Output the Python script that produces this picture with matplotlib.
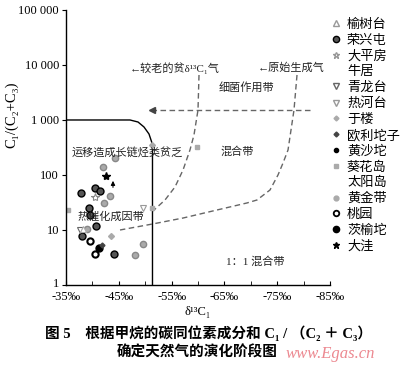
import matplotlib
matplotlib.use('Agg')
import matplotlib.pyplot as plt
from matplotlib.lines import Line2D
import matplotlib.transforms as mtransforms
import numpy as np

plt.rcParams['font.family'] = ['Liberation Serif', 'Noto Sans CJK SC', 'DejaVu Sans']
plt.rcParams['mathtext.fontset'] = 'stix'

# data points: delta13C1 (permil), C1/(C2+C3)
rongxingtun_x = [-40.5, -41.4, -37.9, -39.4, -39.5, -40.7, -38.0, -44.1]
rongxingtun_y = [59, 51, 47, 25, 19, 12, 7.8, 3.6]
huangjindai_x = [-42.0, -44.3, -43.3, -42.2, -39.0, -49.5, -48.1]
huangjindai_y = [141, 200, 42, 31, 10.3, 5.5, 3.5]
dawa_x = [-42.6]
dawa_y = [96]
dapingfang_x = [-40.5]
dapingfang_y = [40]
kuihuadao_x = [-35.3, -51.2, -59.8]
kuihuadao_y = [23, 25, 327]
qinglongtai_x = [-37.65]
qinglongtai_y = [10]
rehetai_x = [-49.6]
rehetai_y = [25]
yushutai_x = [-38.3]
yushutai_y = [10.3]
taoyuan_x = [-39.5, -40.4]
taoyuan_y = [6.4, 3.6]
ciyutuo_x = [-41.3]
ciyutuo_y = [4.8]
yulou_x = [-43.5, -51.2]
yulou_y = [7.9, 351]
ouli_x = [-41.9]
ouli_y = [5.3]

# zone boundaries
solid_x = [-35, -47.12, -48.64, -49.77, -50.72, -51.29, -51.38, -51.38]
solid_y = [1000, 1000, 919, 746, 556, 382, 285, 1]
old_x = [-60.19, -60.0, -59.24, -58.48, -57.16, -55.64, -53.75, -51.48]
old_y = [6579, 1520, 534, 285, 123, 60.5, 35.1, 22.2]
orig_x = [-78.75, -78.18, -77.05, -76.1, -75.15, -73.64, -71.17, -69.28, -63.6, -57.16, -51.48, -45.23]
orig_y = [6579, 1520, 285, 165, 100, 53.4, 35.1, 31, 23.1, 16.5, 12.9, 10]
bact_x = [-81.2, -51.3]
bact_y = [1520, 1520]

yticks = [1, 10, 100, 1000, 10000, 100000]
ytick_labels = ['1', '10', '100', '1 000', '10 000', '100 000']
xticks = [-35, -45, -55, -65, -75, -85]
xtick_labels = ['-35‰', '-45‰', '-55‰', '-65‰', '-75‰', '-85‰']

fig = plt.figure(figsize=(4, 3.74), dpi=100)
ax = fig.add_axes([0.165, 0.238, 0.66, 0.7353])
ax.set_yscale('log')
ax.set_ylim(1, 100000)
ax.set_xlim(-35, -85)
for s in ['top', 'right']:
    ax.spines[s].set_visible(False)
ax.spines['left'].set_linewidth(1.0)
ax.spines['bottom'].set_linewidth(1.0)

ax.set_yticks(yticks)
ax.set_yticklabels(ytick_labels, fontsize=9)
ax.yaxis.set_minor_locator(matplotlib.ticker.NullLocator())
ax.tick_params(axis='y', direction='out', length=3, pad=2)
ax.set_xticks(xticks)
ax.set_xticklabels(xtick_labels, fontsize=9)
ax.set_xticks(np.arange(-40, -85, -10), minor=True)
ax.tick_params(axis='x', which='both', direction='in', length=3, pad=4)
# lift the "1" a little so it clears the -35 label
lbl = ax.get_yticklabels()[0]
lbl.set_transform(lbl.get_transform() + mtransforms.ScaledTranslation(0, 2 / 72, fig.dpi_scale_trans))

ax.set_ylabel('C₁/(C₂+C₃)', fontsize=10.5)
ax.yaxis.set_label_coords(-0.18, 0.62)
ax.set_xlabel('δ¹³C₁', fontsize=9)
ax.xaxis.set_label_coords(0.5, -0.075)

# boundaries
ax.plot(solid_x, solid_y, color='black', lw=1.0)
dash = dict(color='#666666', lw=1.0, ls=(0, (4, 2.5)))
ax.plot(old_x, old_y, **dash)
ax.plot(orig_x, orig_y, **dash)
ax.plot(bact_x, bact_y, **dash)
ax.plot(bact_x[-1], bact_y[-1], marker='<', color='#444444', ms=4)

# zone labels
tkw = dict(fontsize=8, color='#222222')
ax.text(-47.1, 8810, '←较老的贫δ¹³C₁气', va='center', ha='left', **tkw)
ax.text(-71.4, 8810, '←原始生成气', va='center', ha='left', **tkw)
ax.text(-69.1, 3981, '细菌作用带', va='center', ha='center', **tkw)
ax.text(-67.4, 262, '混合带', va='center', ha='center', **tkw)
ax.text(-36.1, 251, '运移造成长链烃类贫乏', va='center', ha='left', **tkw)
ax.text(-37.1, 17.2, '热催化成因带', va='center', ha='left', **tkw)
ax.text(-70.9, 2.62, '1：1 混合带', va='center', ha='center', **tkw)
ax.annotate('', xy=(-43.9, 88), xytext=(-43.9, 53),
            arrowprops=dict(arrowstyle='-|>', color='black', lw=0.8, mutation_scale=6))

# points
ax.plot(rongxingtun_x, rongxingtun_y, 'o', ms=5, mfc='#555555', mec='black', mew=1.0, ls='none')
ax.plot(huangjindai_x, huangjindai_y, 'o', ms=4.5, mfc='#aaaaaa', mec='#888888', ls='none')
ax.plot(dawa_x, dawa_y, '*', ms=6, color='black', ls='none')
ax.plot(dapingfang_x, dapingfang_y, '*', ms=6, mfc='white', mec='#888888', mew=0.8, ls='none')
ax.plot(kuihuadao_x, kuihuadao_y, 's', ms=3.5, color='#aaaaaa', ls='none')
ax.plot(qinglongtai_x, qinglongtai_y, 'v', ms=4.5, mfc='white', mec='#666666', mew=0.8, ls='none')
ax.plot(rehetai_x, rehetai_y, 'v', ms=4.5, mfc='white', mec='#999999', mew=0.8, ls='none')
ax.plot(yushutai_x, yushutai_y, '^', ms=4, mfc='white', mec='#aaaaaa', mew=0.8, ls='none')
ax.plot(taoyuan_x, taoyuan_y, 'o', ms=4.5, mfc='white', mec='black', mew=1.5, ls='none')
ax.plot(ciyutuo_x, ciyutuo_y, 'o', ms=5, color='black', ls='none')
ax.plot(yulou_x, yulou_y, 'D', ms=3, color='#aaaaaa', ls='none')
ax.plot(ouli_x, ouli_y, 'D', ms=2.5, color='#444444', ls='none')

# legend
handles = [
    Line2D([], [], marker='^', ls='none', ms=4, mfc='white', mec='#999999'),
    Line2D([], [], marker='o', ls='none', ms=4.5, mfc='#555555', mec='black'),
    Line2D([], [], marker='*', ls='none', ms=5, mfc='white', mec='#999999'),
    Line2D([], [], ls='none'),
    Line2D([], [], marker='v', ls='none', ms=4, mfc='white', mec='#666666'),
    Line2D([], [], marker='v', ls='none', ms=4, mfc='white', mec='#999999'),
    Line2D([], [], marker='D', ls='none', ms=2.5, color='#aaaaaa'),
    Line2D([], [], marker='D', ls='none', ms=2.5, color='#444444'),
    Line2D([], [], marker='o', ls='none', ms=3, color='black'),
    Line2D([], [], marker='s', ls='none', ms=3, color='#aaaaaa'),
    Line2D([], [], ls='none'),
    Line2D([], [], marker='o', ls='none', ms=3.5, color='#aaaaaa'),
    Line2D([], [], marker='o', ls='none', ms=4, mfc='white', mec='black', mew=1.3),
    Line2D([], [], marker='o', ls='none', ms=4.5, color='black'),
    Line2D([], [], marker='*', ls='none', ms=5, color='black'),
]
labels = ['榆树台', '荣兴屯', '大平房', '牛居', '青龙台', '热河台', '于楼', '欧利坨子',
          '黄沙坨', '葵花岛', '太阳岛', '黄金带', '桃园', '茨榆坨', '大洼']
fig.legend(handles, labels, loc='upper left', bbox_to_anchor=(0.828, 0.95),
           frameon=False, fontsize=9.5, handlelength=0.8, handletextpad=0.4,
           labelspacing=0.26, borderpad=0, borderaxespad=0)

# caption
fig.text(45 / 400, 1 - 333 / 374, '图 5　根据甲烷的碳同位素成分和 C₁ / （C₂ ＋ C₃）',
         fontsize=10.5, fontweight='bold', va='center', ha='left')
fig.text(117 / 400, 1 - 353 / 374, '确定天然气的演化阶段图',
         fontsize=10.5, fontweight='bold', va='center', ha='left')
fig.text(286 / 400, 1 - 354 / 374, 'www.Egas.cn', fontsize=12, style='italic',
         color='#ec8890', va='center', ha='left')

plt.savefig('out.png', dpi=100)
